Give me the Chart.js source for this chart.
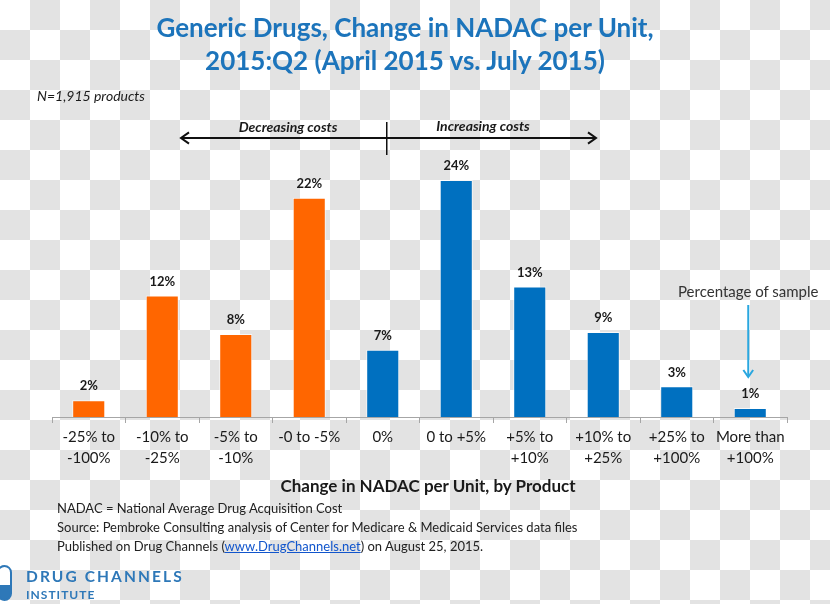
<!DOCTYPE html>
<html>
<head>
<meta charset="utf-8">
<script src="https://cdn.jsdelivr.net/npm/chart.js@4"></script>
<style>
  body { margin: 0; }
  #page {
    position: relative; width: 830px; height: 604px; overflow: hidden;
    background: repeating-conic-gradient(#e3e3e3 0 25%, #ffffff 0 50%) 0 0 / 60px 60px;
    font-family: Lato, "Open Sans", sans-serif; color: #1a1a1a;
  }
  #chartCanvas { position: absolute; left: 0; top: 0; }
  .txt { position: absolute; white-space: nowrap; }
  #title { left: 0; width: 810px; top: 11px; text-align: center; font-weight: bold; font-size: 26px; line-height: 33px; color: #1c74bb; }
  #nprod { left: 37px; top: 87px; font-style: italic; font-size: 14px; }
  .costs { top: 118px; font-style: italic; font-weight: bold; font-size: 14px; transform: translateX(-50%); }
  #pctNote { left: 678px; top: 282px; font-size: 15px; color: #333; }
  #xTitle { left: 0; width: 856px; top: 475px; text-align: center; font-weight: bold; font-size: 17px; }
  .foot { left: 57px; font-size: 13px; color: #222; }
  .foot a { color: #1155cc; }
  #logo1 { left: 26px; top: 567px; font-size: 15.5px; font-weight: bold; letter-spacing: 2.1px; color: #2e78b8; }
  #logo2 { left: 26px; top: 587px; font-size: 12px; font-weight: bold; letter-spacing: 1px; color: #2e78b8; }
  #pill { position: absolute; left: -3px; top: 565px; width: 15px; height: 36px; border: 2px solid #2e78b8; border-radius: 8px; box-sizing: border-box; background: linear-gradient(#fff 0 55%, #2e78b8 55% 100%); }
</style>
</head>
<body>
<div id="page">
  <canvas id="chartCanvas" width="830" height="604"></canvas>
  <div class="txt" id="title">Generic Drugs, Change in NADAC per Unit,<br>2015:Q2 (April 2015 vs. July 2015)</div>
  <div class="txt" id="nprod">N=1,915 products</div>
  <div class="txt costs" style="left:288px">Decreasing costs</div>
  <div class="txt costs" style="left:483px; top:117px">Increasing costs</div>
  <div class="txt" id="pctNote">Percentage of sample</div>
  <div class="txt" id="xTitle">Change in NADAC per Unit, by Product</div>
  <div class="txt foot" style="top:500px">NADAC = National Average Drug Acquisition Cost</div>
  <div class="txt foot" style="top:519px">Source: Pembroke Consulting analysis of Center for Medicare &amp; Medicaid Services data files</div>
  <div class="txt foot" style="top:538px">Published on Drug Channels (<a href="#">www.DrugChannels.net</a>) on August 25, 2015.</div>
  <div id="pill"></div>
  <div class="txt" id="logo1">DRUG CHANNELS</div>
  <div class="txt" id="logo2">INSTITUTE</div>
</div>
<script>
var categories = [
    ['-25% to', '-100%'], ['-10% to', '-25%'], ['-5% to', '-10%'], '-0 to -5%', '0%',
    '0 to +5%', ['+5% to', '+10%'], ['+10% to', '+25%'], ['+25% to', '+100%'], ['More than', '+100%']
];
// share of products, in percent
var shares = [1.7, 12.3, 8.4, 22.2, 6.8, 24.0, 13.2, 8.6, 3.1, 0.9];
var barColors = ['#ff6600', '#ff6600', '#ff6600', '#ff6600',
                 '#0070c0', '#0070c0', '#0070c0', '#0070c0', '#0070c0', '#0070c0'];

function arrowHead(ctx, x, y, dx, dy, size){
    // open arrow head pointing in direction (dx,dy)
    var px = -dy, py = dx;
    ctx.beginPath();
    ctx.moveTo(x - dx*size + px*size*0.7, y - dy*size + py*size*0.7);
    ctx.lineTo(x, y);
    ctx.lineTo(x - dx*size - px*size*0.7, y - dy*size - py*size*0.7);
    ctx.stroke();
}

var extrasPlugin = {
    id: 'extras',
    afterDatasetsDraw: function(chart){
        var ctx = chart.ctx;
        var meta = chart.getDatasetMeta(0);
        var xs = chart.scales.x;
        ctx.save();
        // value labels
        ctx.font = 'bold 13px Lato, sans-serif';
        ctx.fillStyle = '#1a1a1a';
        ctx.textAlign = 'center';
        ctx.textBaseline = 'middle';
        meta.data.forEach(function(bar, i){
            ctx.fillText(Math.round(shares[i]) + '%', bar.x, bar.y - 14);
        });

        // decreasing / increasing arrow
        var midX = xs.getPixelForValue(4) + 4;
        ctx.strokeStyle = '#111';
        ctx.lineWidth = 2;
        ctx.beginPath();
        ctx.moveTo(181, 138); ctx.lineTo(596, 138);
        ctx.stroke();
        arrowHead(ctx, 181, 138, -1, 0, 8);
        arrowHead(ctx, 596, 138, 1, 0, 8);
        ctx.lineWidth = 1.5;
        ctx.beginPath();
        ctx.moveTo(midX, 122); ctx.lineTo(midX, 155);
        ctx.stroke();

        // percentage of sample pointer
        var px = xs.getPixelForValue(9) - 2;
        ctx.strokeStyle = '#2aa7df';
        ctx.lineWidth = 2;
        ctx.beginPath();
        ctx.moveTo(px, 305); ctx.lineTo(px, 376);
        ctx.stroke();
        arrowHead(ctx, px, 377, 0, 1, 7);
        ctx.restore();
    }
};

var barChart = new Chart(document.getElementById('chartCanvas').getContext('2d'), {
    type: 'bar',
    data: {
        labels: categories,
        datasets: [{
            data: shares,
            backgroundColor: barColors,
            borderColor: 'rgba(255,255,255,0.7)',
            borderWidth: 1,
            barPercentage: 0.45,
            categoryPercentage: 1.0
        }]
    },
    options: {
        responsive: false,
        animation: false,
        layout: { padding: { left: 52, right: 43, top: 170, bottom: 0 } },
        plugins: {
            legend: { display: false },
            tooltip: { enabled: false }
        },
        scales: {
            x: {
                grid: { display: true, drawOnChartArea: false, color: '#a6a6a6', tickLength: 6 },
                border: { display: true, color: '#a6a6a6', width: 1 },
                ticks: {
                    color: '#1a1a1a', padding: 4, maxRotation: 0, autoSkip: false,
                    font: { family: 'Lato, sans-serif', size: 15, lineHeight: 1.4 }
                },
                afterFit: function(scale){ scale.height = 187; }
            },
            y: {
                display: false,
                min: 0,
                max: 25
            }
        }
    },
    plugins: [extrasPlugin]
});
</script>
</body>
</html>
